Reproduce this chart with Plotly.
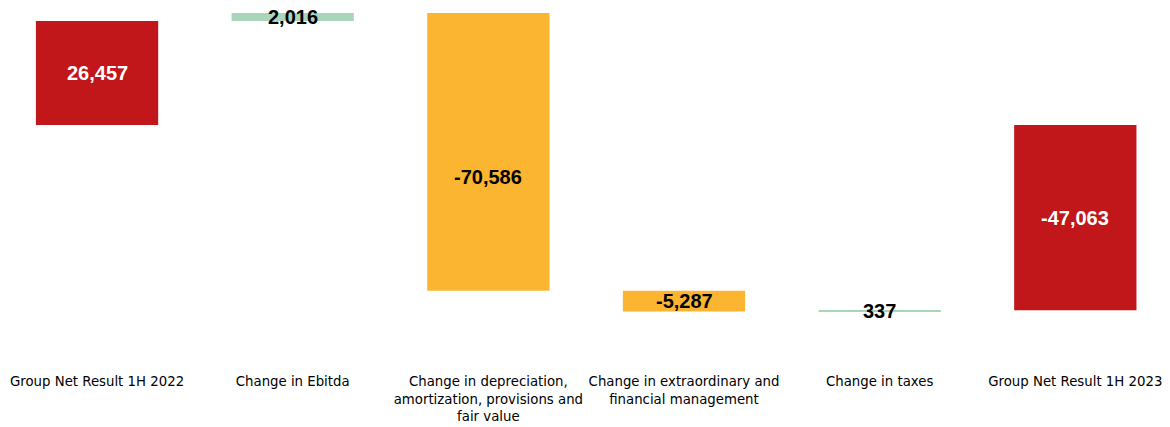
import plotly.graph_objects as go

categories = [
    "Group Net Result 1H 2022",
    "Change in Ebitda",
    "Change in depreciation,<br>amortization, provisions and<br>fair value",
    "Change in extraordinary and<br>financial management",
    "Change in taxes",
    "Group Net Result 1H 2023",
]
values = [26457, 2016, -70586, -5287, 337, -47063]
measures = ["absolute", "relative", "relative", "relative", "relative", "total"]
labels = ["26,457", "2,016", "-70,586", "-5,287", "337", "-47,063"]
label_colors = ["white", "black", "black", "black", "black", "white"]
# vertical nudge (px) of each value label from the bar centre, as in the source
label_shift = [0, 0, -25, 0, 0, 0]

RED = "#C1171A"
GREEN = "#A9D6BB"
ORANGE = "#FBB530"

fig = go.Figure(go.Waterfall(
    x=list(range(len(categories))),
    y=values,
    measure=measures,
    textposition="none",
    increasing=dict(marker=dict(color=GREEN)),
    decreasing=dict(marker=dict(color=ORANGE)),
    totals=dict(marker=dict(color=RED)),
    connector=dict(visible=False),
    hoverinfo="skip",
))

# value labels at the middle of each floating bar
running = 0
for i, (v, m) in enumerate(zip(values, measures)):
    if m == "absolute":
        base, top = 0, v
        running = v
    elif m == "total":
        base, top = 0, running
    else:
        base, top = running, running + v
        running += v
    fig.add_annotation(
        x=i, y=(base + top) / 2, xref="x", yref="y",
        text=labels[i], showarrow=False, yshift=label_shift[i],
        font=dict(family="Liberation Sans", size=20, color=label_colors[i], weight="bold"),
    )

fig.update_layout(
    width=1170,
    height=427,
    margin=dict(l=0, r=0, t=0, b=57),
    paper_bgcolor="white",
    plot_bgcolor="white",
    showlegend=False,
    waterfallgap=0.375,
    xaxis=dict(
        tickmode="array",
        tickvals=list(range(len(categories))),
        ticktext=categories,
        range=[-0.496, len(categories) - 0.516],
        showgrid=False,
        zeroline=False,
        showline=False,
        ticks="",
        ticklabelstandoff=2,
        tickfont=dict(family="DejaVu Sans", size=13.3, color="#000000"),
    ),
    yaxis=dict(
        range=[-62262, 31766],
        showgrid=False,
        zeroline=False,
        showline=False,
        showticklabels=False,
        ticks="",
    ),
)

fig.write_html("out.html")
